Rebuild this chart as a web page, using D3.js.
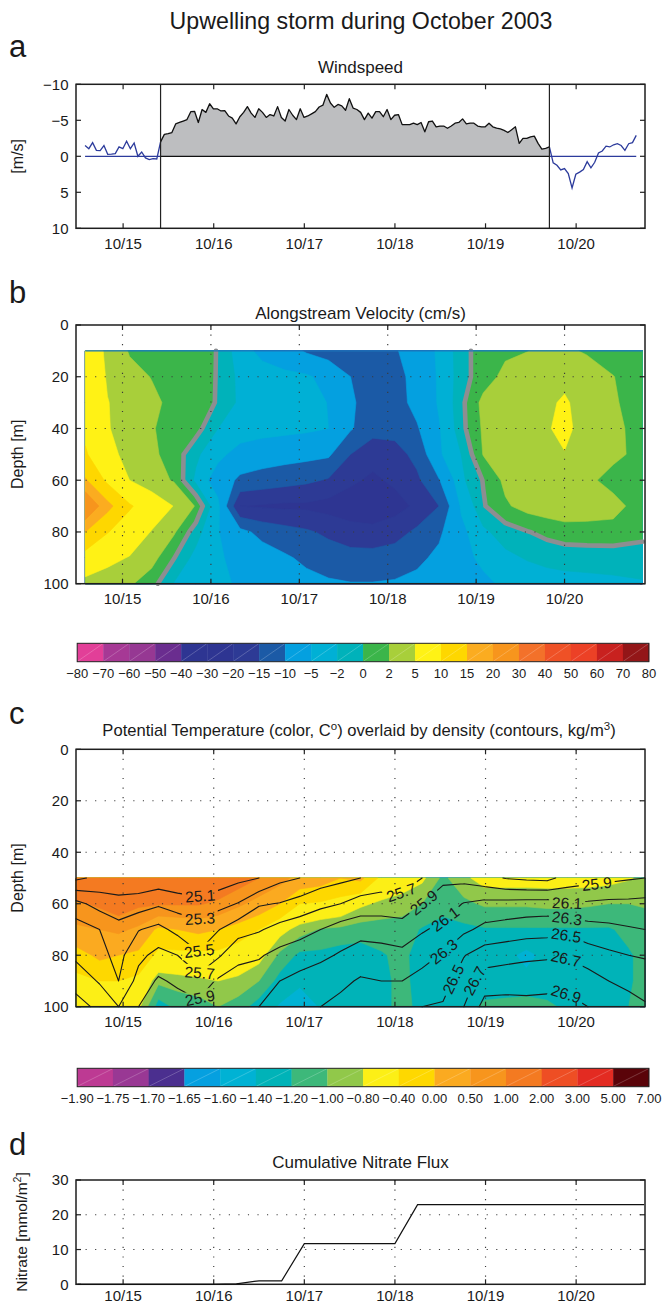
<!DOCTYPE html>
<html>
<head>
<meta charset="utf-8">
<title>Upwelling storm during October 2003</title>
<script src="https://cdn.jsdelivr.net/npm/d3@7/dist/d3.min.js"></script>
<style>
  html, body { margin: 0; padding: 0; background: #fff; }
  svg { display: block; }
  text { font-family: "Liberation Sans", Arial, Helvetica, sans-serif; fill: #1a1a1a; }
</style>
</head>
<body>
<svg id="fig" width="662" height="1305" viewBox="0 0 662 1305"></svg>
<script>
// ---------------- shared time axis (days of October 2003) ----------------
const dayTicks = [15, 16, 17, 18, 19, 20];
const dayTickLabels = ["10/15", "10/16", "10/17", "10/18", "10/19", "10/20"];

// ---------------- (a) hourly wind, m/s (negative = upwelling-favourable) ----------------
const windStart = 14.58;            // day of the first hourly sample
const windValues = [
  -1.5, -1.06, -1.9, -0.83, -0.8, -1.5, -0.28, -0.3, -0.37, -1.3, -1.06, -2.1, -1.06, -1.85, 0.0, -0.6, 0.23, 0.46, 0.32, 0.37,
  -2.0,
  -3.05, -3.15, -3.3, -4.5, -4.7, -4.9, -5.1, -6.2, -6.25, -4.7, -6.5, -6.1, -7.3, -6.6, -6.6, -6.3, -6.35, -5.6, -5.3, -4.5,
  -5.5, -6.1, -6.9, -6.0, -5.4, -6.6, -6.1, -5.4, -5.8, -5.6, -6.9, -5.4, -4.9, -6.5, -5.7, -5.1, -6.6, -5.4, -5.6, -5.9,
  -6.2, -6.85, -7.1, -8.6, -7.4, -6.8, -7.2, -7.0, -6.4, -8.0, -6.7, -6.5, -6.1, -5.1, -6.0,
  -5.3, -6.2, -6.2, -5.5, -6.5, -5.1, -5.7, -5.8, -4.4, -4.4, -4.4, -4.6, -4.4, -4.7, -3.4, -4.8, -4.9, -4.1, -4.2, -4.2,
  -3.9, -4.2, -4.6, -4.7, -5.2, -4.5, -4.6, -4.6, -4.2, -4.1, -4.1, -4.6, -4.1, -3.9, -3.8, -3.6, -3.3, -3.7, -4.1, -1.8,
  -2.5, -2.5, -2.7, -2.8, -1.8, -1.0, -1.1, -1.3,
  0.9, 1.25, 1.9, 1.7, 2.4, 4.4, 2.5, 2.2, 1.85, 0.74, 1.6, 0.83, -0.46, -0.74, -1.4, -1.3, -1.6, -1.75, -1.5, -0.83,
  -1.75, -1.9, -2.9
];
const stormFirst = 20, stormLast = 123;   // sample indices bounding the storm
const windTicks = [-10, -5, 0, 5, 10];

// ---------------- (b) alongstream velocity, cm/s ----------------
const velTimes = [14.58, 14.83, 15.08, 15.33, 15.58, 15.83, 16.08, 16.33, 16.58, 16.83, 17.08, 17.33, 17.58,
                  17.83, 18.08, 18.33, 18.58, 18.83, 19.08, 19.33, 19.58, 19.8, 20.0, 20.25, 20.55, 20.88];
const velDepths = [10, 20, 30, 40, 50, 60, 70, 80, 90, 100];
const velGrid = [
  [7.5, 4.4, 1.75, 1.2, 0.9, 0.5, -0.05, -3.3, -6.1, -8, -10.5, -12, -12.5, -12, -10.3, -8.5, -4.2, -0.8, 1.0, 1.6, 1.95, 2.5, 2.5, 1.7, 1.2, 0.9],
  [8, 4.7, 2.9, 1.9, 1.3, 0.8, -0.1, -2.6, -3.3, -3.9, -4.4, -6.5, -10, -12.5, -11.5, -8.5, -4.5, -0.8, 1.0, 2.6, 3.3, 4.0, 4.4, 3.6, 2.05, 1.0],
  [8.5, 5.1, 3.8, 2.6, 1.3, 0.6, -0.1, -2.5, -3.2, -3.6, -4.0, -5.1, -9.2, -12.5, -12, -8.5, -4.6, -0.5, 2.6, 3.5, 4.2, 4.6, 5.3, 4.0, 2.2, 1.2],
  [9.0, 5.3, 3.0, 2.2, 1.0, 0.8, -2.0, -3.0, -3.5, -3.9, -4.3, -5.0, -9.5, -13.2, -13.2, -10.5, -5.3, -0.6, 2.3, 3.6, 4.3, 4.8, 5.6, 4.0, 2.4, 1.4],
  [10.5, 6.0, 4.0, 2.4, 1.2, -1.5, -4.0, -6.5, -7.5, -8.0, -8.5, -9.2, -15, -18, -17, -13.5, -5.5, -2.0, 2.1, 3.3, 4.0, 4.5, 4.9, 3.8, 2.4, 1.5],
  [15.5, 9.0, 5.0, 3.0, 1.8, -2.5, -7.0, -11, -12, -13, -14, -15.5, -19, -21, -19, -16, -10.3, -2.5, 0.1, 2.5, 3.2, 3.6, 3.8, 2.4, 1.4, 1.0],
  [25.5, 16.5, 10.5, 7.5, 4.9, 1.8, -4.0, -20, -20.5, -21, -21, -22, -23, -23.5, -22, -19, -15.0, -4.5, -0.2, 1.7, 2.8, 3.2, 3.4, 3.0, 2.6, 1.2],
  [15.0, 10.2, 7.5, 4.8, 2.3, -1.0, -4.8, -8.5, -11.5, -13, -14.3, -16, -18, -18.5, -17, -14, -10.8, -6, -2.5, -0.9, -0.1, 0.6, 1.1, 1.3, 1.4, 0.6],
  [8, 6.0, 4.8, 2.8, 0.1, -2.8, -4.6, -6, -7.5, -9.3, -11, -12.5, -13, -13, -12.5, -11, -9.0, -6.5, -4.0, -2.6, -1.8, -1.4, -1.2, -1.2, -1.2, -1.0],
  [3.9, 3.3, 2.3, 0.8, -2.1, -3.0, -4.0, -5.6, -6.5, -7.5, -8.5, -9.3, -9.8, -9.8, -9.5, -8.8, -8.2, -8, -6, -4.2, -3.5, -3.0, -2.8, -2.6, -2.4, -2.2]
];
const velLevels = [-80, -70, -60, -50, -40, -30, -20, -15, -10, -5, -2, 0, 2, 5, 10, 15, 20, 30, 40, 50, 60, 70, 80];
const velColors = ["#e23f98", "#a63995", "#963893", "#6a2d8f", "#2e3592", "#2e3592", "#2d3a95", "#1b5aa6",
                   "#04a0e0", "#00b0d5", "#00b2ba", "#3bb54a", "#a8cf3a", "#fff215", "#fed700", "#fbac20",
                   "#f7951d", "#f3712a", "#ef5126", "#ec4126", "#c8211f", "#931618"];

// ---------------- (c) potential temperature and density ----------------
const ctdTimes = [14.48, 14.74, 14.95, 15.17, 15.39, 15.6, 15.83, 16.05, 16.27, 16.5, 16.73, 16.95, 17.18, 17.4, 17.62,
                  17.85, 18.08, 18.3, 18.53, 18.76, 18.99, 19.22, 19.45, 19.68, 19.9, 20.13, 20.36, 20.58, 20.76];
const ctdDepths = [50, 60, 70, 80, 90, 100];
const tempGrid = [
  [1.6, 1.7, 1.8, 1.7, 1.7, 1.6, 1.5, 1.5, 1.3, 1.0, 0.7, 0.3, 0.2, 0.0, 0.1, -0.5, -0.65, -0.75, -1.05, -0.85, -0.7, -0.7, -0.7, -0.7, -0.7, -0.7, -0.72, -0.78, -0.85],
  [0.9, 1.1, 1.35, 1.1, 1.05, 1.05, 1.05, 0.9, 0.6, 0.3, 0.0, -0.4, -0.45, -0.55, -0.75, -0.85, -0.9, -1.0, -1.15, -1.05, -0.97, -0.97, -0.97, -0.95, -0.95, -0.97, -1.0, -1.0, -0.98],
  [0.4, 0.5, 0.6, 0.4, -0.1, 0.0, 0.1, 0.0, -0.2, -0.4, -0.7, -0.9, -1.02, -1.05, -1.1, -1.1, -1.1, -1.22, -1.25, -1.25, -1.22, -1.22, -1.22, -1.22, -1.22, -1.22, -1.22, -1.15, -1.1],
  [-0.2, 0.1, 0.0, -0.1, -0.5, -0.5, -0.5, -0.5, -0.6, -0.7, -1.05, -1.25, -1.25, -1.3, -1.3, -1.22, -1.15, -1.3, -1.35, -1.35, -1.35, -1.35, -1.45, -1.35, -1.35, -1.35, -1.3, -1.22, -1.15],
  [-0.5, -0.4, -0.4, -0.5, -0.95, -0.9, -0.85, -0.8, -0.85, -1.0, -1.28, -1.35, -1.3, -1.3, -1.3, -1.25, -1.15, -1.28, -1.35, -1.35, -1.35, -1.3, -1.35, -1.35, -1.35, -1.35, -1.3, -1.22, -1.15],
  [-0.6, -0.6, -0.6, -0.75, -1.3, -1.15, -1.1, -1.0, -1.1, -1.3, -1.42, -1.55, -1.38, -1.35, -1.3, -1.25, -1.15, -1.25, -1.3, -1.3, -1.15, -1.15, -1.1, -1.15, -1.25, -1.3, -1.25, -1.2, -1.12]
];
const densGrid = [
  [24.86, 24.95, 24.98, 24.95, 24.97, 24.93, 24.90, 24.98, 25.05, 25.10, 25.25, 25.30, 25.40, 25.45, 25.50, 25.58, 25.60, 25.70, 25.86, 25.84, 25.77, 25.69, 25.66, 25.64, 25.78, 25.82, 25.85, 25.88, 25.90],
  [25.36, 25.22, 25.16, 25.20, 25.27, 25.22, 25.18, 25.23, 25.31, 25.48, 25.51, 25.58, 25.65, 25.70, 25.79, 25.80, 25.78, 25.90, 26.00, 26.11, 26.16, 26.17, 26.18, 26.19, 26.11, 26.13, 26.15, 26.15, 26.16],
  [25.60, 25.50, 25.38, 25.49, 25.56, 25.44, 25.38, 25.49, 25.62, 25.68, 25.77, 25.82, 25.90, 25.99, 26.02, 26.01, 25.99, 26.08, 26.15, 26.26, 26.35, 26.38, 26.41, 26.42, 26.45, 26.38, 26.35, 26.32, 26.30],
  [25.66, 25.56, 25.44, 25.65, 25.76, 25.70, 25.52, 25.67, 25.85, 25.88, 25.96, 26.02, 26.06, 26.12, 26.20, 26.18, 26.15, 26.22, 26.32, 26.49, 26.60, 26.63, 26.66, 26.67, 26.68, 26.60, 26.54, 26.50, 26.48],
  [25.82, 25.68, 25.50, 25.77, 25.93, 25.86, 25.77, 25.93, 25.98, 26.00, 26.10, 26.15, 26.20, 26.26, 26.32, 26.30, 26.30, 26.38, 26.42, 26.60, 26.80, 26.82, 26.82, 26.84, 26.84, 26.79, 26.70, 26.66, 26.62],
  [25.98, 25.85, 25.70, 25.90, 26.05, 26.00, 25.95, 26.08, 26.08, 26.10, 26.20, 26.26, 26.30, 26.35, 26.42, 26.42, 26.45, 26.50, 26.52, 26.70, 26.97, 26.97, 26.96, 26.96, 26.96, 26.90, 26.82, 26.76, 26.72]
];
const tempLevels = [-1.90, -1.75, -1.70, -1.65, -1.60, -1.40, -1.20, -1.00, -0.80, -0.40, 0.00, 0.50, 1.00, 2.00, 3.00, 5.00, 7.00];
const tempColors = ["#bd3a93", "#993894", "#4b2f8f", "#05a0e0", "#00b2d4", "#00b3b8", "#3db87a", "#91c84a",
                    "#fcef16", "#fed800", "#fbaa20", "#f7951d", "#f47a21", "#ee4e24", "#e32b22", "#5a0309"];
const densLevels = [24.9, 25.1, 25.3, 25.5, 25.7, 25.9, 26.1, 26.3, 26.5, 26.7, 26.9];
// inline labels: [isopycnal, day, depth]
const densLabels = [
  [25.1, 15.85, 56.8], [25.3, 15.85, 65.8], [25.5, 15.85, 78.6], [25.7, 15.85, 87], [25.9, 15.85, 96.6],
  [25.7, 18.07, 56], [25.9, 18.33, 60], [26.1, 18.55, 65.7], [26.3, 18.55, 79], [26.5, 18.68, 90], [26.7, 18.88, 90],
  [25.9, 20.23, 53], [26.1, 19.9, 59.7], [26.3, 19.9, 65.4], [26.5, 19.89, 72], [26.7, 19.89, 83], [26.9, 19.89, 94.7]
];

// ---------------- (d) cumulative nitrate flux, mmol/m^2 ----------------
const nitrateTimes = [14.5, 14.75, 15.0, 15.25, 15.5, 15.75, 16.0, 16.25, 16.5, 16.75, 17.0, 17.25, 17.5, 17.75,
                      18.0, 18.25, 18.5, 18.75, 19.0, 19.25, 19.5, 19.75, 20.0, 20.25, 20.5, 20.75];
const nitrateValues = [0, 0, 0, 0, 0, 0, 0, 0.15, 1.0, 1.0, 11.7, 11.7, 11.7, 11.7,
                       11.7, 22.9, 22.9, 22.9, 22.9, 22.9, 22.9, 22.9, 22.9, 22.9, 22.9, 22.9];
const nitrateTicks = [0, 10, 20, 30];

// ======================================================================
const svg = d3.select("#fig");
const L = 76, R = 645;
const MINUS = "\u2212";
const signed = v => (v < 0 ? MINUS + Math.abs(v) : String(v));

const xA = d3.scaleLinear().domain([14.48, 20.76]).range([L, R]);
const xB = d3.scaleLinear().domain([14.474, 20.91]).range([L, R]);
const yA = d3.scaleLinear().domain([-10, 10]).range([84.3, 228.3]);
const yB = d3.scaleLinear().domain([0, 100]).range([325, 583.7]);
const yC = d3.scaleLinear().domain([0, 100]).range([749.3, 1006.7]);
const yD = d3.scaleLinear().domain([0, 30]).range([1284.3, 1180]);

function label(x, y, str, size, anchor) {
  return svg.append("text").attr("x", x).attr("y", y).attr("font-size", size)
    .attr("text-anchor", anchor || "middle").text(str);
}
function yLabel(cy, str, size) {
  return svg.append("text").attr("transform", `translate(23,${cy}) rotate(-90)`)
    .attr("font-size", size).attr("text-anchor", "middle").text(str);
}

// axes box, inward ticks on all sides, optional dotted grid
function frame(x, y, yTicks, yFmt, gridY, tickLabelDy) {
  const T = Math.min(...y.range()), B = Math.max(...y.range());
  const g = svg.append("g");
  if (gridY) {
    const gg = g.append("g").attr("stroke", "#3a3a3a").attr("stroke-width", 1.15)
      .attr("stroke-dasharray", "1.15 8.4");
    dayTicks.forEach(d => gg.append("line").attr("x1", x(d)).attr("x2", x(d)).attr("y1", T).attr("y2", B));
    gridY.forEach(v => gg.append("line").attr("x1", L).attr("x2", R).attr("y1", y(v)).attr("y2", y(v)));
  }
  const tk = g.append("g").attr("stroke", "#222").attr("stroke-width", 1.2);
  dayTicks.forEach(d => {
    tk.append("line").attr("x1", x(d)).attr("x2", x(d)).attr("y1", B).attr("y2", B - 5);
    tk.append("line").attr("x1", x(d)).attr("x2", x(d)).attr("y1", T).attr("y2", T + 5);
  });
  yTicks.forEach(v => {
    tk.append("line").attr("x1", L).attr("x2", L + 5).attr("y1", y(v)).attr("y2", y(v));
    tk.append("line").attr("x1", R).attr("x2", R - 5).attr("y1", y(v)).attr("y2", y(v));
  });
  g.append("rect").attr("x", L).attr("y", T).attr("width", R - L).attr("height", B - T)
    .attr("fill", "none").attr("stroke", "#1e1e1e").attr("stroke-width", 1.5);
  dayTicks.forEach((d, i) => g.append("text").attr("x", x(d)).attr("y", B + (tickLabelDy || 20.3))
    .attr("text-anchor", "middle").attr("font-size", 15).text(dayTickLabels[i]));
  yTicks.forEach(v => g.append("text").attr("x", L - 7.5).attr("y", y(v) + 5.3)
    .attr("text-anchor", "end").attr("font-size", 15).text(yFmt(v)));
}

// coordinate convention of d3.contours (where a grid value sits in output space)
const contourOffset = (() => {
  const probe = d3.contours().size([4, 4]).thresholds([1.5])(d3.range(16).map(k => k % 4));
  let m = Infinity;
  probe[0].coordinates.forEach(poly => poly.forEach(ring => ring.forEach(p => { if (p[0] < m) m = p[0]; })));
  return m - 1.5;
})();

// filled bands on an irregular time/depth grid
function fillBands(grid, times, depths, levels, colors, x, y) {
  const nx = times.length, ny = depths.length;
  const vals = [].concat(...grid);
  const ti = d3.scaleLinear().domain(d3.range(nx)).range(times).clamp(true);
  const di = d3.scaleLinear().domain(d3.range(ny)).range(depths).clamp(true);
  const px = c => x(ti(c - contourOffset)).toFixed(2);
  const py = c => y(di(c - contourOffset)).toFixed(2);
  const g = svg.append("g");
  d3.contours().size([nx, ny]).thresholds(levels.slice(0, -1))(vals).forEach((c, k) => {
    let d = "";
    c.coordinates.forEach(poly => poly.forEach(ring => {
      d += "M" + ring.map(p => px(p[0]) + "," + py(p[1])).join("L") + "Z";
    }));
    if (d) g.append("path").attr("d", d).attr("fill", colors[k]).attr("stroke", colors[k])
      .attr("stroke-width", 0.6).attr("stroke-linejoin", "round");
  });
}

// marching-squares isoline segments, returned in pixel space
function isoSegments(grid, times, depths, level, x, y) {
  const ny = grid.length, nx = grid[0].length, segs = [];
  const ti = d3.scaleLinear().domain(d3.range(nx)).range(times);
  const di = d3.scaleLinear().domain(d3.range(ny)).range(depths);
  const toPx = p => [x(ti(p[0])), y(di(p[1]))];
  for (let j = 0; j < ny - 1; j++) for (let i = 0; i < nx - 1; i++) {
    const v = [grid[j][i], grid[j][i + 1], grid[j + 1][i + 1], grid[j + 1][i]];
    const p = [[i, j], [i + 1, j], [i + 1, j + 1], [i, j + 1]];
    const pts = [];
    for (let e = 0; e < 4; e++) {
      const a = v[e], b = v[(e + 1) % 4];
      if ((a < level) !== (b < level)) {
        const t = (level - a) / (b - a), pa = p[e], pb = p[(e + 1) % 4];
        pts.push(toPx([pa[0] + t * (pb[0] - pa[0]), pa[1] + t * (pb[1] - pa[1])]));
      }
    }
    if (pts.length === 2) segs.push(pts);
    else if (pts.length === 4) {
      const c = (v[0] + v[1] + v[2] + v[3]) / 4;
      if ((c < level) === (v[0] < level)) { segs.push([pts[0], pts[1]]); segs.push([pts[2], pts[3]]); }
      else { segs.push([pts[3], pts[0]]); segs.push([pts[1], pts[2]]); }
    }
  }
  return segs;
}
const segPath = segs => segs.map(s => `M${s[0][0].toFixed(2)},${s[0][1].toFixed(2)}L${s[1][0].toFixed(2)},${s[1][1].toFixed(2)}`).join("");

function colorbar(y0, y1, levels, colors, fmt) {
  const n = colors.length;
  const x = d3.scaleLinear().domain([0, n]).range([77.2, 648.9]);
  const g = svg.append("g");
  colors.forEach((c, i) => {
    g.append("rect").attr("x", x(i)).attr("y", y0).attr("width", x(i + 1) - x(i) + 0.3)
      .attr("height", y1 - y0).attr("fill", c);
    g.append("line").attr("x1", x(i) + 0.5).attr("y1", y1 - 0.5).attr("x2", x(i + 1) - 0.5).attr("y2", y0 + 0.5)
      .attr("stroke", "#fff").attr("stroke-opacity", 0.35).attr("stroke-width", 0.6);
  });
  g.append("rect").attr("x", x(0)).attr("y", y0).attr("width", x(n) - x(0)).attr("height", y1 - y0)
    .attr("fill", "none").attr("stroke", "#222").attr("stroke-width", 1);
  levels.forEach((v, i) => g.append("text").attr("x", x(i)).attr("y", y1 + 16.3)
    .attr("text-anchor", "middle").attr("font-size", 13).text(fmt(v)));
}

// ---------------- titles ----------------
label(361, 29, "Upwelling storm during October 2003", 23.2);
[["a", 57], ["b", 303], ["c", 724], ["d", 1155]].forEach(([s, yy]) => label(9, yy, s, 31, "start"));

// ---------------- panel a: wind ----------------
label(360.5, 72.5, "Windspeed", 17);
const windT = windValues.map((v, i) => windStart + i / 24);
const wpts = windValues.map((v, i) => [windT[i], v]);
const storm = wpts.slice(stormFirst, stormLast + 1);
svg.append("path")
  .attr("d", d3.area().x(d => xA(d[0])).y0(yA(0)).y1(d => yA(d[1]))(storm))
  .attr("fill", "#bdbec0");
const wl = d3.line().x(d => xA(d[0])).y(d => yA(d[1]));
const BLUE = "#2c3b9c";
svg.append("path").attr("d", wl(wpts.slice(0, stormFirst + 1))).attr("fill", "none").attr("stroke", BLUE).attr("stroke-width", 1.3);
svg.append("path").attr("d", wl(wpts.slice(stormLast))).attr("fill", "none").attr("stroke", BLUE).attr("stroke-width", 1.3);
svg.append("path").attr("d", wl(storm)).attr("fill", "none").attr("stroke", "#111").attr("stroke-width", 1.3).attr("stroke-linejoin", "round");
const zeroSeg = (a, b, col) => svg.append("line").attr("x1", xA(a)).attr("x2", xA(b)).attr("y1", yA(0)).attr("y2", yA(0))
  .attr("stroke", col).attr("stroke-width", 1.3);
zeroSeg(windT[0], windT[stormFirst], BLUE);
zeroSeg(windT[stormFirst], windT[stormLast], "#111");
zeroSeg(windT[stormLast], windT[windT.length - 1], BLUE);
[stormFirst, stormLast].forEach(k => svg.append("line").attr("x1", xA(windT[k])).attr("x2", xA(windT[k]))
  .attr("y1", yA(-10)).attr("y2", yA(10)).attr("stroke", "#222").attr("stroke-width", 1.2));
frame(xA, yA, windTicks, signed, null);
yLabel(156.3, "[m/s]", 16);

// ---------------- panel b: alongstream velocity ----------------
label(360.5, 319, "Alongstream Velocity (cm/s)", 17);
fillBands(velGrid, velTimes, velDepths, velLevels, velColors, xB, yB);
svg.append("path").attr("d", segPath(isoSegments(velGrid, velTimes, velDepths, 0, xB, yB)))
  .attr("fill", "none").attr("stroke", "#8d8e91").attr("stroke-width", 4.6).attr("stroke-linecap", "round");
svg.append("line").attr("x1", xB(velTimes[0])).attr("x2", xB(velTimes[velTimes.length - 1]))
  .attr("y1", yB(velDepths[0])).attr("y2", yB(velDepths[0])).attr("stroke", "#1c76bc").attr("stroke-width", 1.3);
frame(xB, yB, [0, 20, 40, 60, 80, 100], String, [20, 40, 60, 80]);
yLabel(454.3, "Depth [m]", 16);
colorbar(643.3, 661.7, velLevels, velColors, signed);

// ---------------- panel c: temperature + density ----------------
{
  const t = svg.append("text").attr("x", 359).attr("y", 736).attr("font-size", 16.6).attr("text-anchor", "middle");
  t.append("tspan").text("Potential Temperature (color, C");
  t.append("tspan").attr("dy", -6.5).attr("font-size", 11.5).text("o");
  t.append("tspan").attr("dy", 6.5).text(") overlaid by density (contours, kg/m");
  t.append("tspan").attr("dy", -6.5).attr("font-size", 11.5).text("3");
  t.append("tspan").attr("dy", 6.5).text(")");
}
fillBands(tempGrid, ctdTimes, ctdDepths, tempLevels, tempColors, xA, yC);
frame(xA, yC, [0, 20, 40, 60, 80, 100], String, [20, 40, 60, 80]);
{
  const defs = svg.append("defs");
  const mask = defs.append("mask").attr("id", "labelGaps").attr("maskUnits", "userSpaceOnUse")
    .attr("x", 0).attr("y", 0).attr("width", 662).attr("height", 1305);
  mask.append("rect").attr("width", 662).attr("height", 1305).attr("fill", "#fff");
  const segsBy = new Map(densLevels.map(l => [l, isoSegments(densGrid, ctdTimes, ctdDepths, l, xA, yC)]));
  const lines = svg.append("g").attr("mask", "url(#labelGaps)").attr("fill", "none")
    .attr("stroke", "#1a1a1a").attr("stroke-width", 1.1).attr("stroke-linecap", "round");
  densLevels.forEach(l => lines.append("path").attr("d", segPath(segsBy.get(l))));
  const lab = svg.append("g");
  densLabels.forEach(([lvl, day, dep]) => {
    const segs = segsBy.get(lvl), ax = xA(day), ay = yC(dep);
    let best = null, bd = Infinity;
    segs.forEach(s => {
      const [a, b] = s, dx = b[0] - a[0], dy = b[1] - a[1], len2 = dx * dx + dy * dy || 1e-9;
      let u = ((ax - a[0]) * dx + (ay - a[1]) * dy) / len2; u = Math.max(0, Math.min(1, u));
      const qx = a[0] + u * dx, qy = a[1] + u * dy, d = (qx - ax) ** 2 + (qy - ay) ** 2;
      if (d < bd) { bd = d; best = { x: qx, y: qy, dx, dy }; }
    });
    if (!best) return;
    // average direction of nearby segments
    let sx = 0, sy = 0;
    segs.forEach(s => {
      const mx = (s[0][0] + s[1][0]) / 2, my = (s[0][1] + s[1][1]) / 2;
      if ((mx - best.x) ** 2 + (my - best.y) ** 2 < 18 * 18) {
        let dx = s[1][0] - s[0][0], dy = s[1][1] - s[0][1];
        if (dx * best.dx + dy * best.dy < 0) { dx = -dx; dy = -dy; }
        sx += dx; sy += dy;
      }
    });
    let ang = Math.atan2(sy, sx) * 180 / Math.PI;
    if (ang > 90) ang -= 180;
    if (ang <= -90) ang += 180;
    const tr = `translate(${best.x.toFixed(2)},${best.y.toFixed(2)}) rotate(${ang.toFixed(1)})`;
    const txt = lab.append("text").attr("transform", tr).attr("text-anchor", "middle")
      .attr("dy", "0.36em").attr("font-size", 15.5).text(lvl.toFixed(1));
    const w = txt.node().getComputedTextLength() + 6;
    mask.append("rect").attr("x", -w / 2).attr("y", -8).attr("width", w).attr("height", 16)
      .attr("transform", tr).attr("fill", "#000");
  });
}
yLabel(878, "Depth [m]", 16);
colorbar(1068.3, 1086.7, tempLevels, tempColors, v => (v < 0 ? MINUS : "") + Math.abs(v).toFixed(2));

// ---------------- panel d: cumulative nitrate ----------------
label(360.5, 1167.5, "Cumulative Nitrate Flux", 17);
frame(xA, yD, nitrateTicks, String, [10, 20], 16.5);
svg.append("path")
  .attr("d", d3.line().x((d, i) => xA(nitrateTimes[i])).y(d => yD(d))(nitrateValues))
  .attr("fill", "none").attr("stroke", "#111").attr("stroke-width", 1.2);
{
  const t = svg.append("text").attr("transform", "translate(27,1232) rotate(-90)")
    .attr("font-size", 15.5).attr("text-anchor", "middle");
  t.append("tspan").text("Nitrate [mmol/m");
  t.append("tspan").attr("dy", -6).attr("font-size", 10.5).text("2");
  t.append("tspan").attr("dy", 6).text("]");
}
</script>
</body>
</html>
